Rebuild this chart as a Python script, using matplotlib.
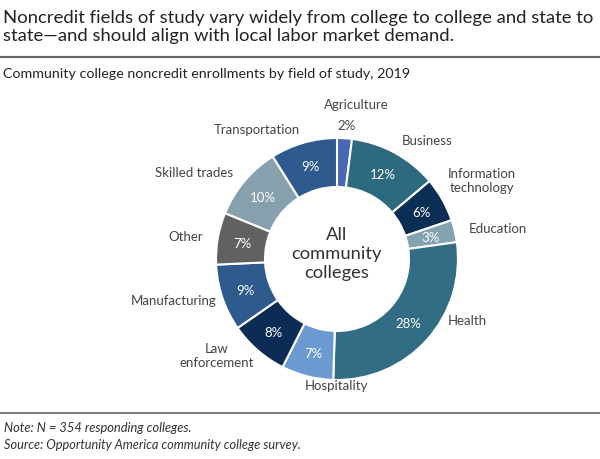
"""
Donut chart: community college noncredit enrollments by field of study, 2019.
"""
import numpy as np
import matplotlib
matplotlib.use("Agg")
import matplotlib.pyplot as plt
from matplotlib.lines import Line2D

plt.rcParams["font.family"] = ["Lato", "DejaVu Sans"]

# data, clockwise from 12 o'clock
fields = ["Agriculture", "Business", "Information\ntechnology", "Education", "Health",
          "Hospitality", "Law\nenforcement", "Manufacturing", "Other", "Skilled trades",
          "Transportation"]
shares = [2, 12, 6, 3, 28, 7, 8, 9, 7, 10, 9]
colors = ["#4a67b5", "#2d6a7f", "#0b2e55", "#84a3b0", "#336d85", "#6b9ad0",
          "#0c2c55", "#2f5a8e", "#616161", "#86a1ad", "#2e5a8f"]

title = ("Noncredit fields of study vary widely from college to college and state to\n"
         "state\u2014and should align with local labor market demand.")
subtitle = "Community college noncredit enrollments by field of study, 2019"
note = "Note: N = 354 responding colleges."
source = "Source: Opportunity America community college survey."

# label placement tweaks (degrees added to the slice's mid angle)
label_shift = {"Information\ntechnology": -6, "Health": -13, "Hospitality": -14}

W, H = 600, 460
fig = plt.figure(figsize=(W / 100, H / 100), dpi=100)

# title block
fig.text(3 / W, 1 - 27 / H, title, ha="left", va="center", fontsize=13.3,
         color="#222222", linespacing=1.2)
fig.add_artist(Line2D([0, 1], [1 - 58 / H] * 2, color="#666666", lw=1.6))
fig.text(3 / W, 1 - 74 / H, subtitle, ha="left", va="center", fontsize=10.3, color="#222222")

# footer
fig.add_artist(Line2D([0, 1], [1 - 414 / H] * 2, color="#666666", lw=1.2))
fig.text(4 / W, 1 - 428 / H, note, ha="left", va="center", fontsize=9.3,
         style="italic", color="#333333")
fig.text(4 / W, 1 - 445 / H, source, ha="left", va="center", fontsize=9.2,
         style="italic", color="#333333")

# donut axes: center (337, 260) px, outer radius 121 px
R_px = 121
cx, cy = 337, 260
size = 3 * R_px
ax = fig.add_axes([(cx - size / 2) / W, (H - cy - size / 2) / H, size / W, size / H])

width = 0.405
wedges, _ = ax.pie(shares, colors=colors, startangle=90, counterclock=False,
                   radius=1, wedgeprops=dict(width=width, edgecolor="white", linewidth=1.5))
ax.set_xlim(-1.5, 1.5)
ax.set_ylim(-1.5, 1.5)
ax.axis("off")

total = sum(shares)
cum = np.cumsum([0] + shares)
for i, (name, val) in enumerate(zip(fields, shares)):
    mid = (cum[i] + val / 2) / total * 2 * np.pi  # clockwise from top
    sx, sy = np.sin(mid), np.cos(mid)
    pct = f"{val}%"
    if val <= 2:
        # small slice: name and value outside
        ax.text(1.1 * sx + 0.01, 1.1 * sy + 0.01, pct, ha="center", va="center",
                fontsize=9.5, color="#444444")
        ax.text(1.24 * sx + 0.08, 1.28 * sy, name, ha="center", va="center",
                fontsize=9.5, color="#444444")
        continue
    ax.text((1 - width / 2) * sx, (1 - width / 2) * sy, pct, ha="center", va="center",
            fontsize=9.5, color="white")

    a = mid + np.deg2rad(label_shift.get(name, 0))
    lx, ly = np.sin(a), np.cos(a)
    r = 1.12 if ly > -0.3 else 1.05
    if abs(lx) < 0.15:
        ha = "center"
        r = 1.04
    elif lx > 0:
        ha = "left"
    else:
        ha = "right"
    ax.text(r * lx, r * ly, name, ha=ha, va="center", fontsize=9.5, color="#444444",
            linespacing=1.2, multialignment="center")

ax.text(0, 0.05, "All\ncommunity\ncolleges", ha="center", va="center", fontsize=13.2,
        color="#333333", linespacing=1.2)

fig.savefig("out.png", dpi=100)
